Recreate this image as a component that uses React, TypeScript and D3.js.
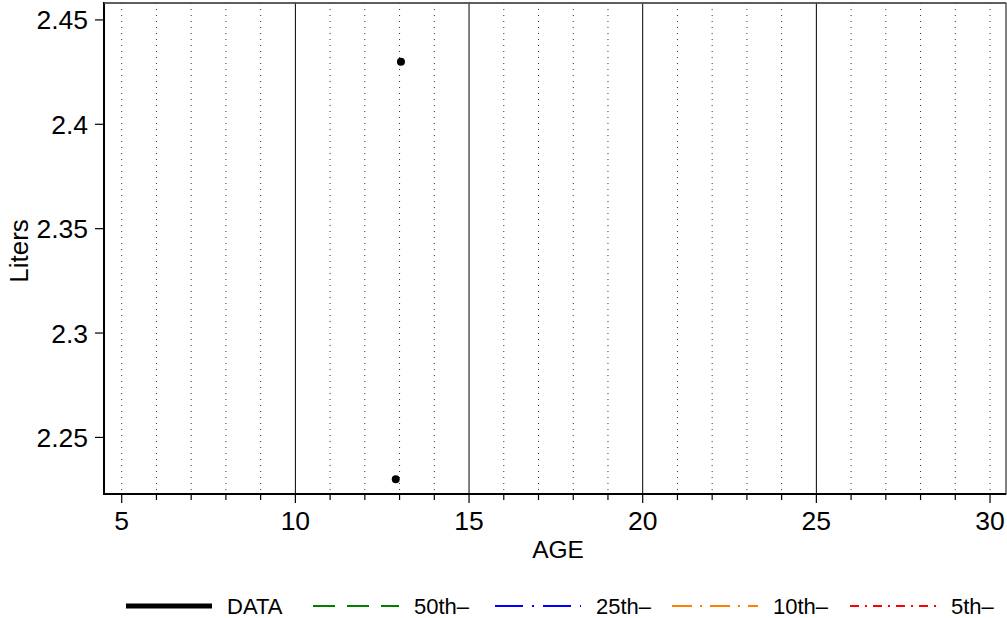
import React from "react";
import * as d3 from "d3";

const ageValues = [13.04, 12.89];
const literValues = [2.43, 2.23];
const xMajorTicks = [5, 10, 15, 20, 25, 30];
const xSolidGrid = [10, 15, 20, 25];
const yTicks = [2.25, 2.3, 2.35, 2.4, 2.45];
const legendLabels = ["DATA", "50th–", "25th–", "10th–", "5th–"];
const legendColors = ["#000000", "#008000", "#0000ff", "#ff8000", "#ff0000"];
const legendDash = ["", "22,12", "28,9,2,9", "20,8,2,8", "9,6,2,6"];
const legendStarts = [126, 313, 495, 672, 850];

const W = 1007;
const H = 618;
const M = { left: 104, top: 3, right: 1006, bottom: 494 };

export default function App() {
  const x = d3.scaleLinear().domain([4.49, 30.46]).range([M.left, M.right]);
  const y = d3.scaleLinear().domain([2.2229, 2.4581]).range([M.bottom, M.top]);
  const minor = d3.range(5, 31, 1);
  const font = "Liberation Sans, Arial, sans-serif";

  return (
    <svg
      width={W}
      height={H}
      style={{ position: "absolute", left: 0, top: 0, background: "#fff" }}
      fontFamily={font}
    >
      {minor
        .filter((v) => !xSolidGrid.includes(v))
        .map((v) => (
          <line
            key={"g" + v}
            x1={x(v)}
            x2={x(v)}
            y1={M.top}
            y2={M.bottom}
            stroke="#333"
            strokeWidth={1}
            strokeDasharray="1,5"
          />
        ))}
      {xSolidGrid.map((v) => (
        <line key={"s" + v} x1={x(v)} x2={x(v)} y1={M.top} y2={M.bottom} stroke="#000" strokeWidth={1} />
      ))}
      <rect
        x={M.left}
        y={M.top}
        width={M.right - M.left}
        height={M.bottom - M.top}
        fill="none"
        stroke="#000"
        strokeWidth={1}
      />
      <line x1={M.left} x2={M.left} y1={M.top - 1} y2={M.bottom + 1} stroke="#000" strokeWidth={2} />
      <line x1={M.left - 1} x2={M.right} y1={M.bottom} y2={M.bottom} stroke="#000" strokeWidth={2} />
      <line x1={M.left} x2={M.right} y1={M.top} y2={M.top} stroke="#555" strokeWidth={1.5} />
      {minor.map((v) => (
        <line
          key={"t" + v}
          x1={x(v)}
          x2={x(v)}
          y1={M.bottom}
          y2={M.bottom + (xMajorTicks.includes(v) ? 9 : 6)}
          stroke="#000"
          strokeWidth={1.2}
        />
      ))}
      {xMajorTicks.map((v) => (
        <text key={"xl" + v} x={x(v)} y={530} fontSize={26.5} textAnchor="middle" fill="#000">
          {v}
        </text>
      ))}
      {yTicks.map((v) => (
        <g key={"y" + v}>
          <line x1={M.left - 9} x2={M.left} y1={y(v)} y2={y(v)} stroke="#000" strokeWidth={1.2} />
          <text x={88} y={y(v) + 9.5} fontSize={26.5} textAnchor="end" fill="#000">
            {String(v)}
          </text>
        </g>
      ))}
      <text x={558} y={558} fontSize={24.5} textAnchor="middle" fill="#000">
        AGE
      </text>
      <text transform={`translate(28,251) rotate(-90)`} fontSize={26} textAnchor="middle" fill="#000">
        Liters
      </text>
      {ageValues.map((a, i) => (
        <circle key={"p" + i} cx={x(a)} cy={y(literValues[i])} r={4} fill="#000" />
      ))}
      {legendLabels.map((lab, i) => {
        const sx = legendStarts[i];
        return (
          <g key={"lg" + i}>
            <line
              x1={sx}
              x2={sx + 86}
              y1={606}
              y2={606}
              stroke={legendColors[i]}
              strokeWidth={i === 0 ? 5 : 2}
              strokeDasharray={legendDash[i] || undefined}
            />
            <text x={sx + 101} y={614} fontSize={22} fill="#000">
              {lab}
            </text>
          </g>
        );
      })}
    </svg>
  );
}
